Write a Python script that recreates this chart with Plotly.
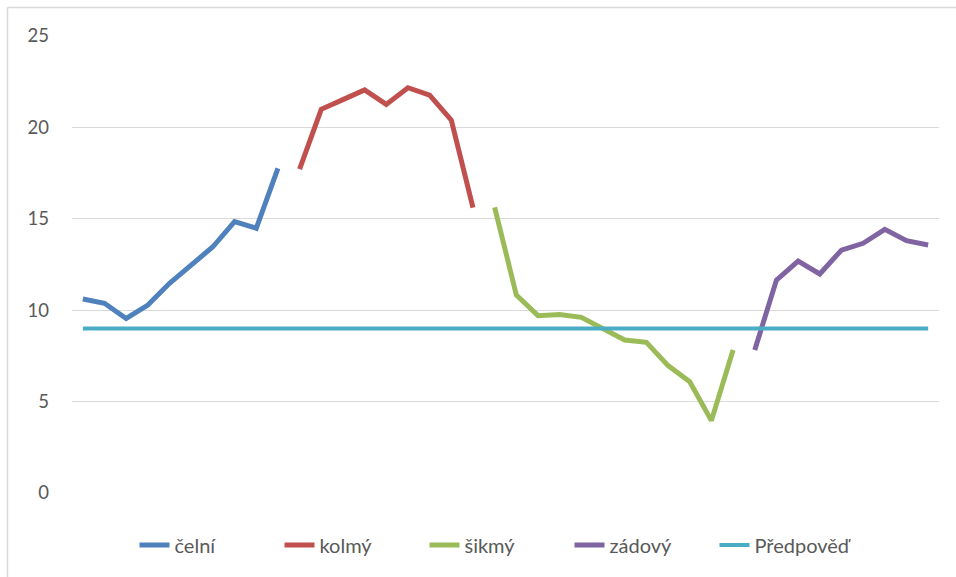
import plotly.graph_objects as go

# 40 categories (no visible labels)
categories = list(range(40))

celni = [10.61, 10.38, 9.55, 10.28, 11.47, 12.47, 13.47, 14.84, 14.48, 17.76]
kolmy = [17.72, 20.99, 21.52, 22.05, 21.26, 22.17, 21.77, 20.40, 15.61]
sikmy = [15.63, 10.83, 9.70, 9.76, 9.61, 8.99, 8.37, 8.24, 6.97, 6.09, 3.96, 7.82]
zadovy = [7.82, 11.65, 12.69, 11.98, 13.29, 13.66, 14.42, 13.80, 13.57]
predpoved = [9.0] * 40

series_names = ["čelní", "kolmý", "šikmý", "zádový", "Předpověď"]
colors = ["#4F81BD", "#C0504D", "#9BBB59", "#8064A2", "#4BACC6"]

fig = go.Figure()

segments = [celni, kolmy, sikmy, zadovy]
start = 0
for name, vals, col in zip(series_names[:4], segments, colors[:4]):
    xs = categories[start:start + len(vals)]
    fig.add_trace(go.Scatter(x=xs, y=vals, mode="lines", name=name,
                             line=dict(color=col, width=5)))
    start += len(vals)

fig.add_trace(go.Scatter(x=categories, y=predpoved, mode="lines", name=series_names[4],
                         line=dict(color=colors[4], width=4)))

W, H = 956, 577
L, R, T, B = 72, 939, 36, 493
pw, ph = R - L, B - T

def px_x(x):
    return (x - L) / pw

def px_y(y):
    return (B - y) / ph

fig.update_layout(
    width=W, height=H,
    margin=dict(l=L, r=W - R, t=T, b=H - B, pad=0),
    paper_bgcolor="white", plot_bgcolor="white",
    font=dict(family="Lato, Open Sans, sans-serif", size=18, color="#595959"),
    showlegend=True,
    legend=dict(orientation="h", x=px_x(497), xanchor="center", y=px_y(545), yanchor="middle",
                font=dict(size=20, color="#595959"), entrywidth=100, entrywidthmode="pixels",
                tracegroupgap=0),
    xaxis=dict(range=[-0.5, 39.5], showticklabels=False, showgrid=False, zeroline=False,
               showline=False, ticks=""),
    yaxis=dict(range=[0, 25], dtick=5, tick0=0, showgrid=True, gridcolor="#D9D9D9", gridwidth=1.3,
               zeroline=False, showline=False, ticks="", ticklabelstandoff=22,
               tickfont=dict(size=18.5, color="#595959")),
    shapes=[
        dict(type="line", xref="paper", yref="paper", x0=px_x(7.5), x1=px_x(960), y0=px_y(7.5), y1=px_y(7.5),
             line=dict(color="#D9D9D9", width=1.5)),
        dict(type="line", xref="paper", yref="paper", x0=px_x(7.5), x1=px_x(7.5), y0=px_y(7.5), y1=px_y(580),
             line=dict(color="#D9D9D9", width=1.5)),
    ],
)

fig.write_html("out.html", config={"displayModeBar": False},
               post_script="document.body.style.margin='0';document.body.style.overflow='hidden';")
